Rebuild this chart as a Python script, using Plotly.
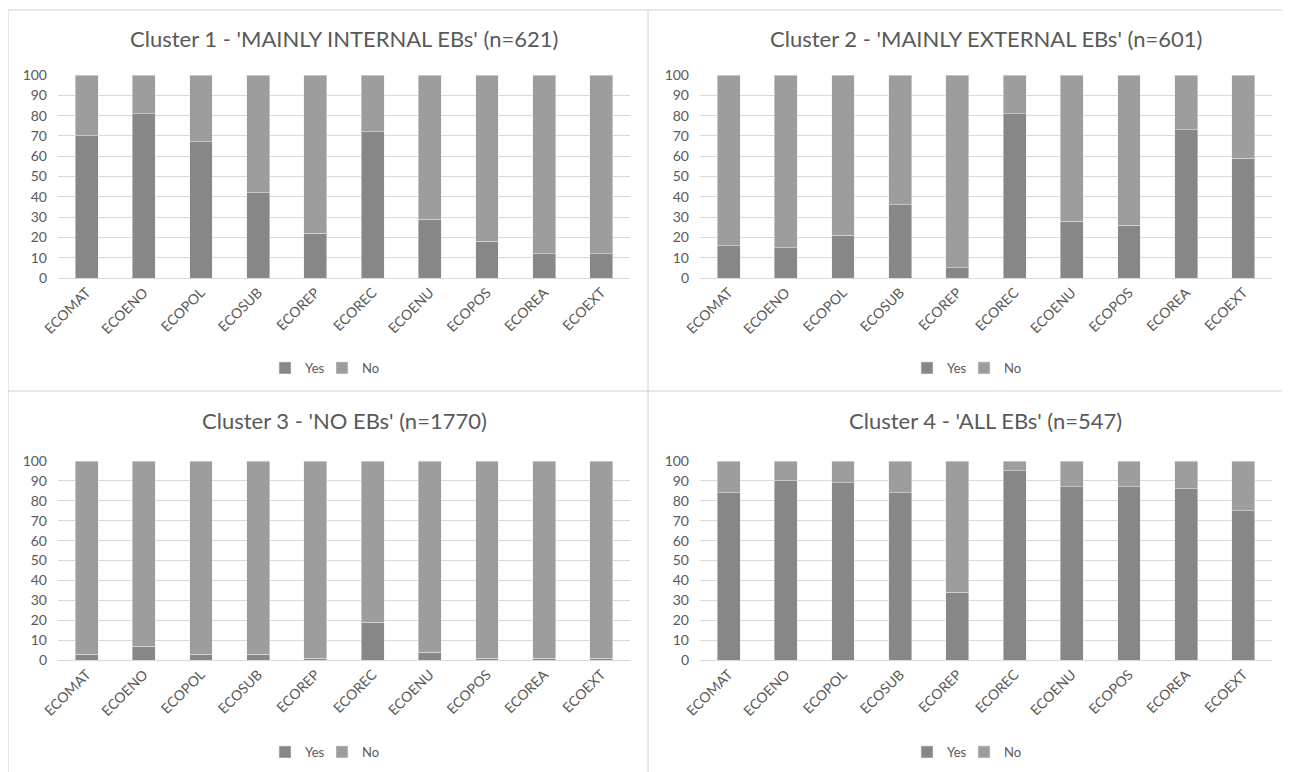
import plotly.graph_objects as go

categories = ["ECOMAT", "ECOENO", "ECOPOL", "ECOSUB", "ECOREP",
              "ECOREC", "ECOENU", "ECOPOS", "ECOREA", "ECOEXT"]

titles = [
    "Cluster 1 - 'MAINLY INTERNAL EBs' (n=621)",
    "Cluster 2 - 'MAINLY EXTERNAL EBs' (n=601)",
    "Cluster 3 - 'NO EBs' (n=1770)",
    "Cluster 4 - 'ALL EBs' (n=547)",
]

yes_c1 = [70, 81, 67, 42, 22, 72, 29, 18, 12, 12]
yes_c2 = [16, 15, 21, 36, 5, 81, 28, 26, 73, 59]
yes_c3 = [3, 7, 3, 3, 1, 19, 4, 1, 1, 1]
yes_c4 = [84, 90, 89, 84, 34, 95, 87, 87, 86, 75]

no_c1 = [100 - v for v in yes_c1]
no_c2 = [100 - v for v in yes_c2]
no_c3 = [100 - v for v in yes_c3]
no_c4 = [100 - v for v in yes_c4]

yes_all = [yes_c1, yes_c2, yes_c3, yes_c4]
no_all = [no_c1, no_c2, no_c3, no_c4]

y_ticks = [0, 10, 20, 30, 40, 50, 60, 70, 80, 90, 100]

W, H = 1290, 772
OFF = 8  # page body margin compensation
YES_COLOR = "#878787"
NO_COLOR = "#9d9d9d"
TXT = "#595959"
GRID = "#d9d9d9"
FONT = "Lato, Open Sans, sans-serif"


def px(x):
    return (x - OFF) / W


def py(y):
    return 1 - (y - OFF) / H


# pixel layout of the four plot areas (page coords): (x0, x1, ytop, ybottom)
areas = [
    (58, 630, 75, 278),
    (700, 1272, 75, 278),
    (58, 630, 461, 660),
    (700, 1272, 461, 660),
]
title_y = [38, 38, 420, 420]
legend_y = [368, 368, 752, 752]
legend_dx = -22

fig = go.Figure()
for i in range(4):
    ax = "" if i == 0 else str(i + 1)
    lg = "legend" if i == 0 else f"legend{i + 1}"
    fig.add_trace(go.Bar(x=categories, y=yes_all[i], name="Yes",
                         marker_color=YES_COLOR, xaxis="x" + ax, yaxis="y" + ax,
                         legend=lg))
    fig.add_trace(go.Bar(x=categories, y=no_all[i], name="No",
                         marker_color=NO_COLOR, xaxis="x" + ax, yaxis="y" + ax,
                         legend=lg))

layout = dict(
    width=W, height=H, autosize=False,
    margin=dict(l=0, r=0, t=0, b=0, pad=0, autoexpand=False),
    paper_bgcolor="white", plot_bgcolor="white",
    barmode="stack", bargap=0.6,
    font=dict(family=FONT, color=TXT),
    showlegend=True,
)
shapes = []
annotations = []
for i, (x0, x1, yt, yb) in enumerate(areas):
    ax = "" if i == 0 else str(i + 1)
    xd = [px(x0), px(x1)]
    yd = [py(yb), py(yt)]
    layout["xaxis" + ax] = dict(
        domain=xd, anchor="y" + ax, tickangle=-45,
        tickfont=dict(size=14, color=TXT, family=FONT),
        showgrid=False, showline=True, linecolor=GRID, linewidth=1,
        ticks="", fixedrange=True, automargin=False,
    )
    layout["yaxis" + ax] = dict(
        domain=yd, anchor="x" + ax, range=[0, 100],
        tickvals=y_ticks, tickfont=dict(size=14, color=TXT, family=FONT),
        showgrid=True, gridcolor=GRID, gridwidth=1, zeroline=False,
        showline=False, ticks="", fixedrange=True, automargin=False,
        ticklabelstandoff=10,
    )
    lg = "legend" if i == 0 else f"legend{i + 1}"
    layout[lg] = dict(
        orientation="h", x=px((x0 + x1) / 2 + legend_dx), xanchor="center",
        y=py(legend_y[i]), yanchor="middle",
        font=dict(size=13, color=TXT, family=FONT),
        bgcolor="rgba(0,0,0,0)", itemwidth=30, traceorder="normal",
        entrywidth=12, tracegroupgap=0,
    )
    annotations.append(dict(
        text=titles[i], xref="paper", yref="paper",
        x=px((x0 + x1) / 2), y=py(title_y[i]),
        xanchor="center", yanchor="middle", showarrow=False,
        font=dict(size=22, color=TXT, family=FONT),
    ))

line = dict(color="#d0d0d0", width=1)
shapes += [
    dict(type="line", xref="paper", yref="paper", x0=px(8), x1=1, y0=py(10), y1=py(10), line=line),
    dict(type="line", xref="paper", yref="paper", x0=px(8), x1=px(8), y0=0, y1=py(10), line=line),
    dict(type="line", xref="paper", yref="paper", x0=px(648), x1=px(648), y0=0, y1=py(10), line=line),
    dict(type="line", xref="paper", yref="paper", x0=px(8), x1=1, y0=py(391), y1=py(391), line=line),
]
layout["shapes"] = shapes
layout["annotations"] = annotations
fig.update_layout(**layout)

fig.write_html("out.html")
